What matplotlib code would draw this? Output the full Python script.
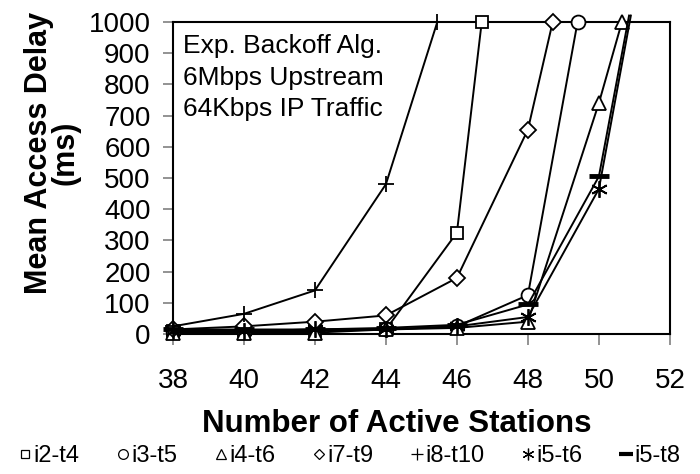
import matplotlib
matplotlib.use("Agg")
import matplotlib.pyplot as plt
from matplotlib.lines import Line2D

plt.rcParams['font.family'] = ['Liberation Sans', 'DejaVu Sans']

# data
labels = ['i2-t4', 'i3-t5', 'i4-t6', 'i7-t9', 'i8-t10', 'i5-t6', 'i5-t8']
x_i2t4 = [38, 40, 42, 44, 46, 46.7]
y_i2t4 = [10, 10, 10, 15, 325, 1000]
x_i3t5 = [38, 40, 42, 44, 46, 48, 49.4]
y_i3t5 = [10, 10, 15, 15, 25, 125, 1000]
x_i4t6 = [38, 40, 42, 44, 46, 48, 50, 50.65]
y_i4t6 = [5, 5, 5, 15, 20, 40, 740, 1000]
x_i7t9 = [38, 40, 42, 44, 46, 48, 48.7]
y_i7t9 = [15, 25, 40, 60, 180, 655, 1000]
x_i8t10 = [38, 40, 42, 44, 45.45]
y_i8t10 = [25, 65, 140, 480, 1000]
x_i5t6 = [38, 40, 42, 44, 46, 48, 50, 50.9]
y_i5t6 = [10, 10, 15, 15, 25, 55, 465, 1020]
x_i5t8 = [38, 40, 42, 44, 46, 48, 50, 50.85]
y_i5t8 = [15, 15, 15, 20, 30, 95, 505, 1020]

series = [
    (x_i2t4, y_i2t4, 's', 9),
    (x_i3t5, y_i3t5, 'o', 10),
    (x_i4t6, y_i4t6, '^', 10),
    (x_i7t9, y_i7t9, 'D', 8),
    (x_i8t10, y_i8t10, '+', 12),
    (x_i5t6, y_i5t6, (6, 2, 0), 12),
    (x_i5t8, y_i5t8, '_', 14),
]

fig = plt.figure(figsize=(7, 4.74), dpi=100)
ax = fig.add_axes([0.247, 0.295, 0.71, 0.659])

handles = []
for (xs, ys, m, ms), lab in zip(series, labels):
    mew = 3.5 if m == '_' else 1.3
    # the last point of the two right-most series sits past the top edge
    every = slice(0, len(xs) - 1) if ys[-1] > 1000 else None
    ax.plot(xs, ys, color='black', lw=1.4, marker=m, markersize=ms, markevery=every,
            markerfacecolor='white', markeredgecolor='black', markeredgewidth=mew,
            clip_on=False, zorder=3)
    handles.append(Line2D([], [], ls='none', marker=m, markersize=ms * 0.7,
                          markerfacecolor='white', markeredgecolor='black',
                          markeredgewidth=0.9 if m != '_' else 3, label=lab))

ax.set_xlim(38, 52)
ax.set_ylim(0, 1000)
ax.set_xticks(range(38, 53, 2))
ax.set_yticks(range(0, 1001, 100))
ax.tick_params(axis='both', direction='out', labelsize=20, color='gray', width=1.2)
ax.tick_params(axis='x', length=8, pad=16)
ax.tick_params(axis='y', length=7, pad=9)
for s in ax.spines.values():
    s.set_linewidth(1.5)

ax.set_xlabel('Number of Active Stations', fontsize=22.5, fontweight='bold', labelpad=11)
ax.xaxis.label.set_x(0.45)
ax.set_ylabel('Mean Access Delay\n(ms)', fontsize=22, fontweight='bold', labelpad=6,
              linespacing=0.85)
ax.yaxis.label.set_y(0.58)

ax.text(0.02, 0.96, 'Exp. Backoff Alg.\n6Mbps Upstream\n64Kbps IP Traffic',
        transform=ax.transAxes, ha='left', va='top', fontsize=19, linespacing=1.38)

fig.legend(handles=handles, loc='center', bbox_to_anchor=(0.5, 0.037), ncol=7,
           frameon=False, fontsize=17, handlelength=0.5, handletextpad=0.1,
           columnspacing=1.6)

fig.savefig('out.png', dpi=100)
